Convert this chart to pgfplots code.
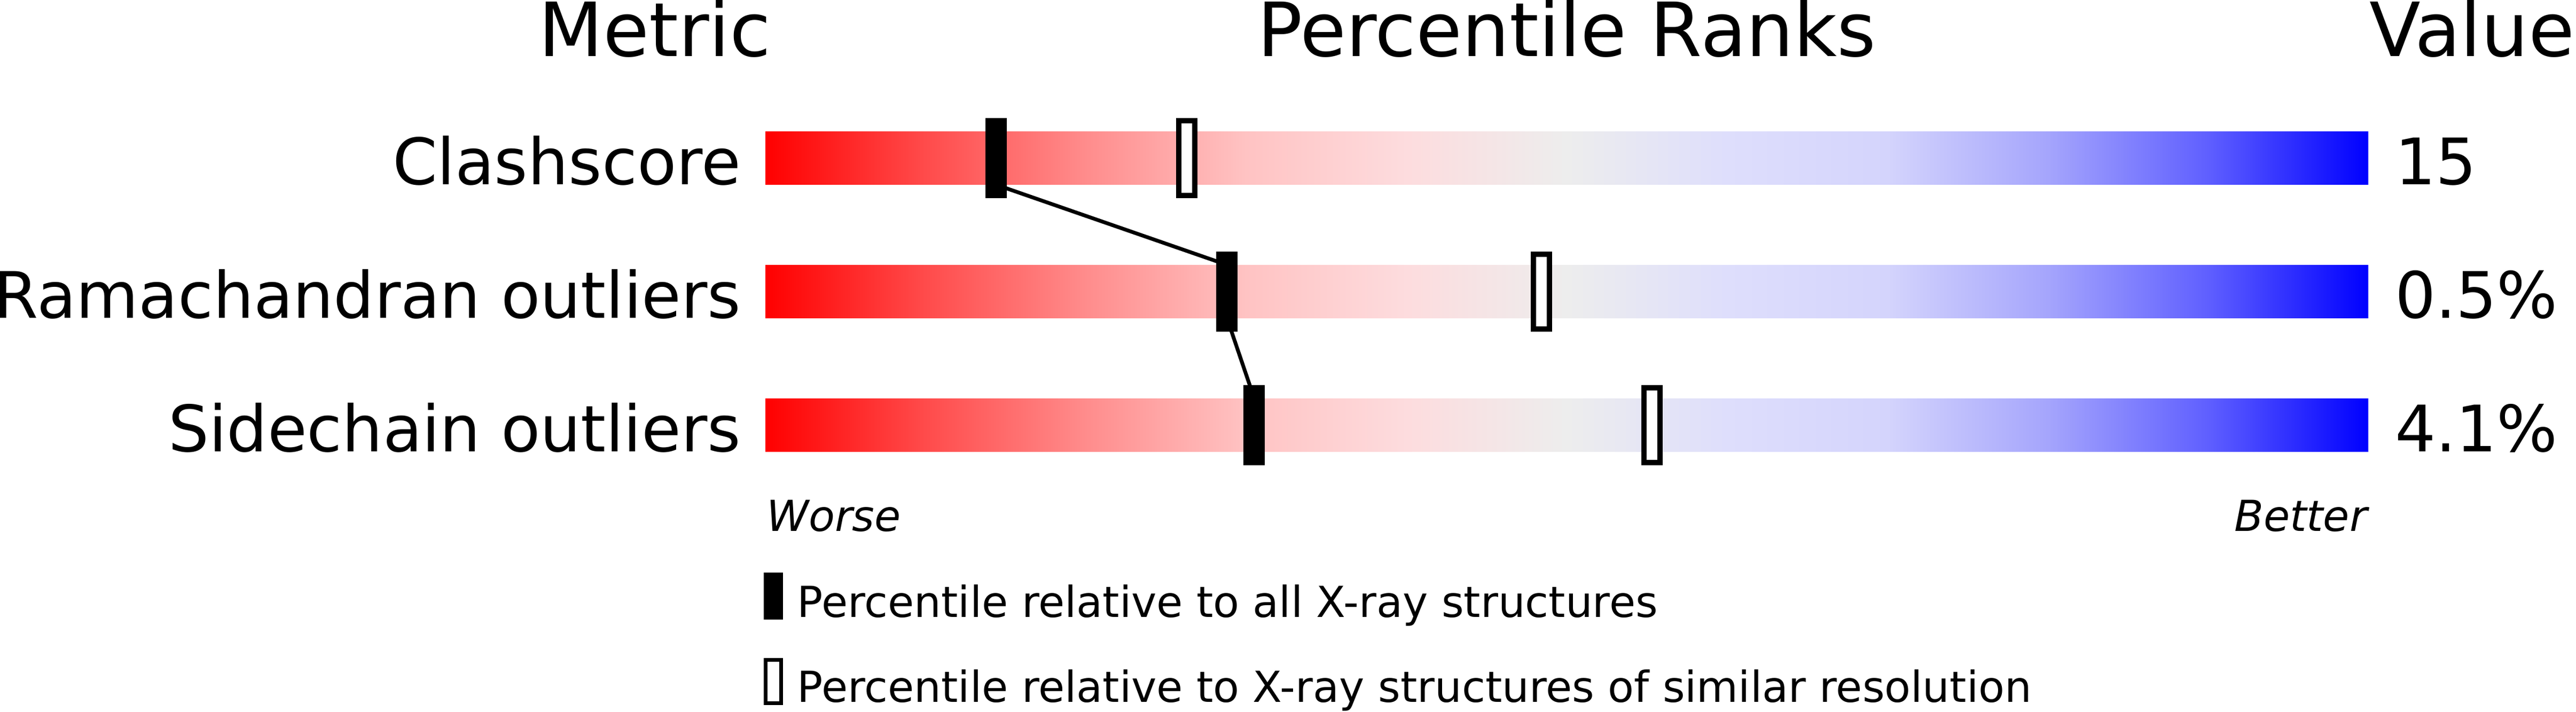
\documentclass[border=0pt]{standalone}
\usepackage{fontspec}
\setmainfont{DejaVu Sans}
\usepackage{pgfplots}
\pgfplotsset{compat=1.18}

% slider colours, worse (red) to better (blue)
\definecolor{s0}{RGB}{255,0,0}
\definecolor{s1}{RGB}{255,75,75}
\definecolor{s2}{RGB}{255,140,140}
\definecolor{s3}{RGB}{255,195,195}
\definecolor{s4}{RGB}{253,220,222}
\definecolor{s5}{RGB}{237,237,237}
\definecolor{s6}{RGB}{222,222,252}
\definecolor{s7}{RGB}{212,212,252}
\definecolor{s8}{RGB}{165,165,252}
\definecolor{s9}{RGB}{95,95,255}
\definecolor{s10}{RGB}{0,0,255}
\pgfdeclarehorizontalshading{pdbslider}{100bp}{color(0bp)=(s0); color(25bp)=(s0);
  color(30bp)=(s1); color(35bp)=(s2); color(40bp)=(s3); color(45bp)=(s4);
  color(50bp)=(s5); color(55bp)=(s6); color(60bp)=(s7); color(65bp)=(s8);
  color(70bp)=(s9); color(75bp)=(s10); color(100bp)=(s10)}

% percentile markers
\pgfdeclareplotmark{allbar}{\pgfpathrectangle{\pgfpoint{-2pt}{-7.5pt}}{\pgfpoint{4pt}{15pt}}\pgfusepathqfill}
\pgfdeclareplotmark{simbar}{\pgfpathrectangle{\pgfpoint{-1.5pt}{-7pt}}{\pgfpoint{3pt}{14pt}}\pgfusepathqfillstroke}
\pgfdeclareplotmark{allkey}{\pgfpathrectangle{\pgfpoint{-1.8pt}{-4.4pt}}{\pgfpoint{3.6pt}{8.8pt}}\pgfusepathqfill}
\pgfdeclareplotmark{simkey}{\pgfpathrectangle{\pgfpoint{-1.45pt}{-4.05pt}}{\pgfpoint{2.9pt}{8.1pt}}\pgfusepathqfillstroke}

\newcommand\headfont{\fontsize{14}{16}\selectfont}
\newcommand\rowfont{\fontsize{12}{14}\selectfont}
\newcommand\smallfont{\fontsize{8}{10}\selectfont}

\begin{document}
\begin{tikzpicture}
\begin{axis}[
  hide axis, scale only axis, clip=false,
  width=482.3pt, height=133.3pt,
  xmin=-47.75, xmax=112.96, ymin=-1.148, ymax=4.184,
]
% gradient sliders
\addplot[xbar, bar width=0.4, draw=none, shading=pdbslider, forget plot]
  coordinates {(100,3) (100,2) (100,1)};
% connecting line between the "all structures" markers
\addplot[black, line width=0.7pt, forget plot] coordinates {(14.4,2.8) (28.8,2.2)};
\addplot[black, line width=0.7pt, forget plot] coordinates {(28.8,1.8) (30.5,1.2)};
% percentile relative to all X-ray structures
\addplot[only marks, mark=allbar, black] coordinates {(14.4,3) (28.8,2) (30.5,1)};
% percentile relative to similar resolution
\addplot[only marks, mark=simbar, mark options={draw=black, fill=white, line width=1pt}]
  coordinates {(26.3,3) (48.4,2) (55.3,1)};
% key
\addplot[only marks, mark=allkey, black] coordinates {(0.5,-0.28)};
\addplot[only marks, mark=simkey, mark options={draw=black, fill=white, line width=0.7pt}]
  coordinates {(0.5,-0.92)};

% headings
\node[anchor=base, inner sep=0, font=\headfont] at (axis cs:-6.9,3.76) {Metric};
\node[anchor=base, inner sep=0, font=\headfont] at (axis cs:50,3.76) {Percentile Ranks};
\node[anchor=base west, inner sep=0, font=\headfont] at (axis cs:100,3.76) {Value};
% metric names
\node[anchor=base east, inner sep=0, font=\rowfont] at (axis cs:-1.47,2.8) {Clashscore};
\node[anchor=base east, inner sep=0, font=\rowfont] at (axis cs:-1.47,1.8) {Ramachandran outliers};
\node[anchor=base east, inner sep=0, font=\rowfont] at (axis cs:-1.47,0.8) {Sidechain outliers};
% values
\node[anchor=base west, inner sep=0, font=\rowfont] at (axis cs:101.6,2.8) {15};
\node[anchor=base west, inner sep=0, font=\rowfont] at (axis cs:101.6,1.8) {0.5\%};
\node[anchor=base west, inner sep=0, font=\rowfont] at (axis cs:101.6,0.8) {4.1\%};
% scale ends
\node[anchor=base west, inner sep=0, font=\smallfont\itshape] at (axis cs:0,0.204) {Worse};
\node[anchor=base east, inner sep=0, font=\smallfont\itshape] at (axis cs:100,0.204) {Better};
% key text
\node[anchor=base west, inner sep=0, font=\smallfont] at (axis cs:1.93,-0.44)
  {Percentile relative to all X-ray structures};
\node[anchor=base west, inner sep=0, font=\smallfont] at (axis cs:1.93,-1.076)
  {Percentile relative to X-ray structures of similar resolution};
\end{axis}
\pgfresetboundingbox
\path[use as bounding box] (0,0) rectangle (482.3pt,133.3pt);
\end{tikzpicture}
\end{document}
